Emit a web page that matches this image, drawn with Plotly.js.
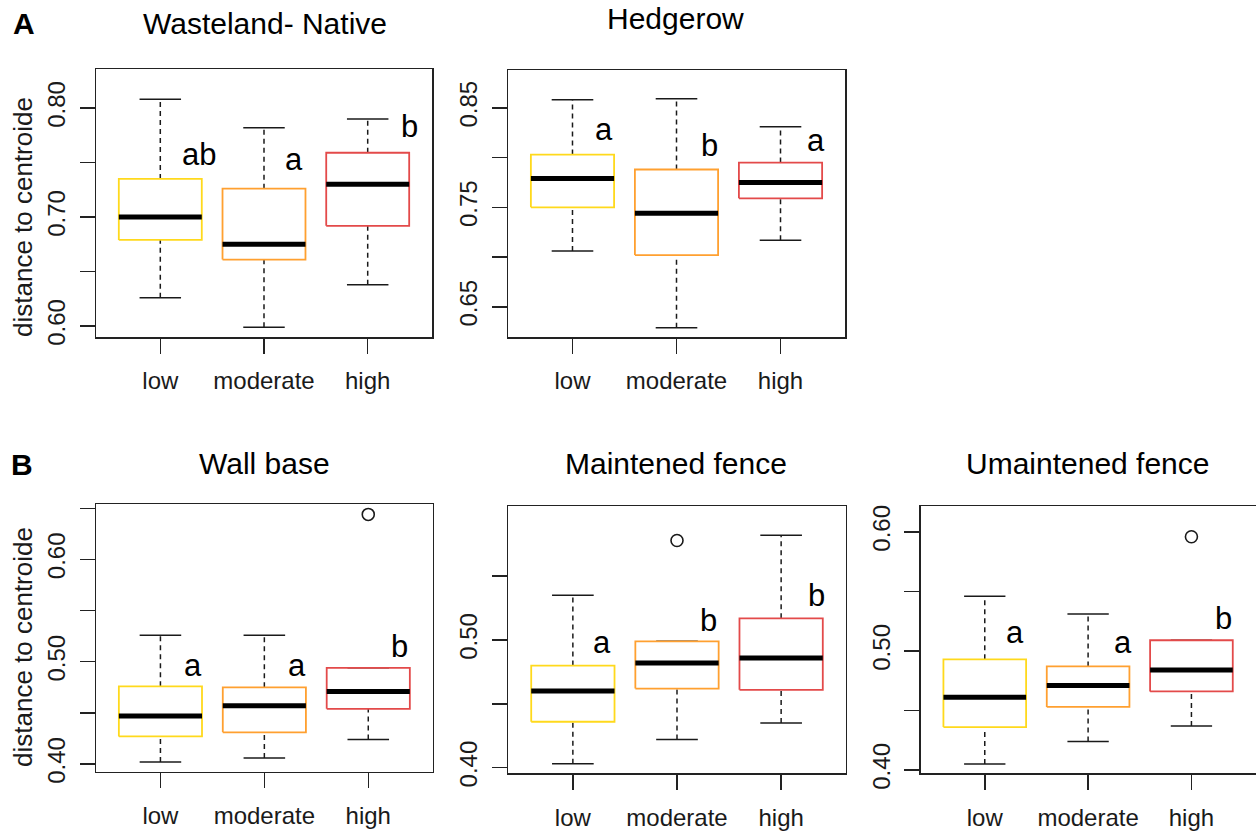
<!DOCTYPE html>
<html>
<head>
<meta charset="utf-8">
<script src="https://cdn.plot.ly/plotly-3.0.1.min.js"></script>
<style>
html,body{margin:0;padding:0;background:#fff;}
#chart{width:1256px;height:835px;}
</style>
</head>
<body>
<div id="chart"></div>
<script>
// ---------- DATA ----------
const groups = ['low', 'moderate', 'high'];
const panelTitles = ['Wasteland- Native', 'Hedgerow', 'Wall base', 'Maintened fence', 'Umaintened fence'];
const panelTags = ['A', 'B'];
const yAxisLabel = 'distance to centroide';

// Wasteland- Native
const wastelandLower  = [0.626, 0.599, 0.638];
const wastelandQ1     = [0.679, 0.661, 0.692];
const wastelandMedian = [0.700, 0.675, 0.730];
const wastelandQ3     = [0.735, 0.726, 0.759];
const wastelandUpper  = [0.808, 0.782, 0.790];
const wastelandOutliers = [[], [], []];
const wastelandLetters = ['ab', 'a', 'b'];

// Hedgerow
const hedgerowLower  = [0.706, 0.629, 0.717];
const hedgerowQ1     = [0.750, 0.702, 0.759];
const hedgerowMedian = [0.779, 0.744, 0.775];
const hedgerowQ3     = [0.803, 0.788, 0.795];
const hedgerowUpper  = [0.858, 0.859, 0.831];
const hedgerowOutliers = [[], [], []];
const hedgerowLetters = ['a', 'b', 'a'];

// Wall base
const wallLower  = [0.402, 0.406, 0.424];
const wallQ1     = [0.427, 0.431, 0.454];
const wallMedian = [0.447, 0.457, 0.471];
const wallQ3     = [0.476, 0.475, 0.494];
const wallUpper  = [0.526, 0.526, 0.494];
const wallOutliers = [[], [], [0.644]];
const wallLetters = ['a', 'a', 'b'];

// Maintened fence
const maintLower  = [0.403, 0.422, 0.435];
const maintQ1     = [0.436, 0.462, 0.461];
const maintMedian = [0.460, 0.482, 0.486];
const maintQ3     = [0.480, 0.499, 0.517];
const maintUpper  = [0.535, 0.499, 0.582];
const maintOutliers = [[], [0.578], []];
const maintLetters = ['a', 'b', 'b'];

// Umaintened fence
const unmaintLower  = [0.405, 0.424, 0.437];
const unmaintQ1     = [0.436, 0.453, 0.466];
const unmaintMedian = [0.461, 0.471, 0.484];
const unmaintQ3     = [0.493, 0.487, 0.509];
const unmaintUpper  = [0.546, 0.531, 0.509];
const unmaintOutliers = [[], [], [0.596]];
const unmaintLetters = ['a', 'a', 'b'];

// ---------- STYLE / LAYOUT ----------
const boxColors = ['#FFD91C', '#FFA030', '#E34A4A'];
const FONT = 'Liberation Sans, Arial, Helvetica, sans-serif';
const INK = '#1a1a1a';

const panels = [
  {stats: [wastelandLower, wastelandQ1, wastelandMedian, wastelandQ3, wastelandUpper], out: wastelandOutliers, letters: wastelandLetters,
   dom: {x: [96, 432], y: [69, 337]}, range: [0.590, 0.8358], ticks: [0.60, 0.65, 0.70, 0.75, 0.80], labelEvery: [true, false, true, false, true],
   letterPos: [[1.375, 0.7578], [2.288, 0.7528], [3.399, 0.7835]], title: [264.5, 23.2]},
  {stats: [hedgerowLower, hedgerowQ1, hedgerowMedian, hedgerowQ3, hedgerowUpper], out: hedgerowOutliers, letters: hedgerowLetters,
   dom: {x: [508, 845], y: [70, 337]}, range: [0.6197, 0.888], ticks: [0.65, 0.70, 0.75, 0.80, 0.85], labelEvery: [true, false, true, false, true],
   letterPos: [[1.304, 0.8287], [2.319, 0.8119], [3.340, 0.8169]], title: [675.5, 18.3]},
  {stats: [wallLower, wallQ1, wallMedian, wallQ3, wallUpper], out: wallOutliers, letters: wallLetters,
   dom: {x: [96, 432.7], y: [504.3, 771.7]}, range: [0.3925, 0.6539], ticks: [0.40, 0.45, 0.50, 0.55, 0.60, 0.65], labelEvery: [true, false, true, false, true, false],
   letterPos: [[1.314, 0.4968], [2.315, 0.4968], [3.305, 0.515]], title: [264, 463.3]},
  {stats: [maintLower, maintQ1, maintMedian, maintQ3, maintUpper], out: maintOutliers, letters: maintLetters,
   dom: {x: [508.3, 845.7], y: [506, 773.3]}, range: [0.3956, 0.605], ticks: [0.40, 0.45, 0.50, 0.55], labelEvery: [true, false, true, false],
   letterPos: [[1.282, 0.4982], [2.301, 0.5151], [3.335, 0.5347]], title: [676.2, 463.3]},
  {stats: [unmaintLower, unmaintQ1, unmaintMedian, unmaintQ3, unmaintUpper], out: unmaintOutliers, letters: unmaintLetters,
   dom: {x: [920.7, 1255.5], y: [506, 773.3]}, range: [0.3972, 0.6218], ticks: [0.40, 0.45, 0.50, 0.55, 0.60], labelEvery: [true, false, true, false, true],
   letterPos: [[1.296, 0.5151], [2.337, 0.5073], [3.308, 0.5269]], title: [1088.3, 463.3]}
];

const W = 1256, H = 835;
const traces = [];
const layout = {
  width: W, height: H,
  margin: {l: 0, r: 0, t: 0, b: 0},
  paper_bgcolor: '#ffffff', plot_bgcolor: '#ffffff',
  showlegend: false,
  font: {family: FONT, color: INK},
  annotations: []
};

const halfBox = 0.4, halfCap = 0.2;

panels.forEach((p, idx) => {
  const k = idx + 1;
  const xa = 'x' + (k === 1 ? '' : k), ya = 'y' + (k === 1 ? '' : k);
  const [lower, q1, med, q3, upper] = p.stats;

  // whiskers (dashed) and caps (solid)
  const wx = [], wy = [], cx = [], cy = [];
  groups.forEach((g, i) => {
    const c = i + 1;
    if (upper[i] > q3[i]) { wx.push(c, c, null); wy.push(q3[i], upper[i], null); }
    if (lower[i] < q1[i]) { wx.push(c, c, null); wy.push(lower[i], q1[i], null); }
    cx.push(c - halfCap, c + halfCap, null, c - halfCap, c + halfCap, null);
    cy.push(upper[i], upper[i], null, lower[i], lower[i], null);
  });
  traces.push({type: 'scatter', mode: 'lines', x: wx, y: wy, xaxis: xa, yaxis: ya,
    line: {color: INK, width: 1.5, dash: '5px,4px'}, hoverinfo: 'skip'});
  traces.push({type: 'scatter', mode: 'lines', x: cx, y: cy, xaxis: xa, yaxis: ya,
    line: {color: INK, width: 1.5}, hoverinfo: 'skip'});

  // boxes
  groups.forEach((g, i) => {
    const c = i + 1;
    traces.push({type: 'scatter', mode: 'lines', name: g,
      x: [c - halfBox, c + halfBox, c + halfBox, c - halfBox, c - halfBox],
      y: [q1[i], q1[i], q3[i], q3[i], q1[i]],
      xaxis: xa, yaxis: ya, line: {color: boxColors[i], width: 1.8}, hoverinfo: 'skip'});
  });

  // medians
  const mx = [], my = [];
  groups.forEach((g, i) => { const c = i + 1; mx.push(c - halfBox, c + halfBox, null); my.push(med[i], med[i], null); });
  traces.push({type: 'scatter', mode: 'lines', x: mx, y: my, xaxis: xa, yaxis: ya,
    line: {color: '#000', width: 5}, hoverinfo: 'skip'});

  // outliers
  const ox = [], oy = [];
  p.out.forEach((arr, i) => arr.forEach(v => { ox.push(i + 1); oy.push(v); }));
  if (ox.length) traces.push({type: 'scatter', mode: 'markers', x: ox, y: oy, xaxis: xa, yaxis: ya,
    marker: {symbol: 'circle-open', size: 12, color: INK, line: {width: 1.6, color: INK}}, hoverinfo: 'skip'});

  const axCommon = {showgrid: false, zeroline: false, showline: true, mirror: true, linecolor: '#222', linewidth: 1.5,
    ticks: 'outside', ticklen: 15, tickwidth: 1.5, tickcolor: '#222', tickfont: {family: FONT, size: 24, color: INK}, fixedrange: true};

  layout['xaxis' + (k === 1 ? '' : k)] = Object.assign({}, axCommon, {
    domain: [p.dom.x[0] / W, p.dom.x[1] / W], anchor: ya,
    range: [0.38, 3.62], tickmode: 'array', tickvals: [1, 2, 3], ticktext: groups, ticklabelstandoff: 7
  });
  layout['yaxis' + (k === 1 ? '' : k)] = Object.assign({}, axCommon, {
    domain: [1 - p.dom.y[1] / H, 1 - p.dom.y[0] / H], anchor: xa,
    range: p.range, tickmode: 'array', tickvals: p.ticks,
    ticktext: p.ticks.map((v, j) => p.labelEvery[j] ? v.toFixed(2) : ''),
    tickangle: -90, ticklabelstandoff: 5
  });

  // significance letters
  p.letters.forEach((t, i) => {
    layout.annotations.push({xref: xa, yref: ya, x: p.letterPos[i][0], y: p.letterPos[i][1], text: t, showarrow: false,
      xanchor: 'center', yanchor: 'middle', font: {family: FONT, size: 31, color: '#000'}});
  });

  // panel title
  layout.annotations.push({xref: 'paper', yref: 'paper', x: p.title[0] / W, y: 1 - p.title[1] / H, text: panelTitles[idx],
    showarrow: false, xanchor: 'center', yanchor: 'middle', font: {family: FONT, size: 30, color: '#000'}});
});

// y-axis titles and panel tags
[[23, 217], [23, 647]].forEach(pos => {
  layout.annotations.push({xref: 'paper', yref: 'paper', x: pos[0] / W, y: 1 - pos[1] / H, text: yAxisLabel, textangle: -90,
    showarrow: false, xanchor: 'center', yanchor: 'middle', font: {family: FONT, size: 26, color: INK}});
});
[[24, 23.5], [21.5, 464.5]].forEach((pos, i) => {
  layout.annotations.push({xref: 'paper', yref: 'paper', x: pos[0] / W, y: 1 - pos[1] / H, text: '<b>' + panelTags[i] + '</b>',
    showarrow: false, xanchor: 'center', yanchor: 'middle', font: {family: FONT, size: 30, color: '#000'}});
});

Plotly.newPlot('chart', traces, layout, {displayModeBar: false, staticPlot: true});
</script>
</body>
</html>
